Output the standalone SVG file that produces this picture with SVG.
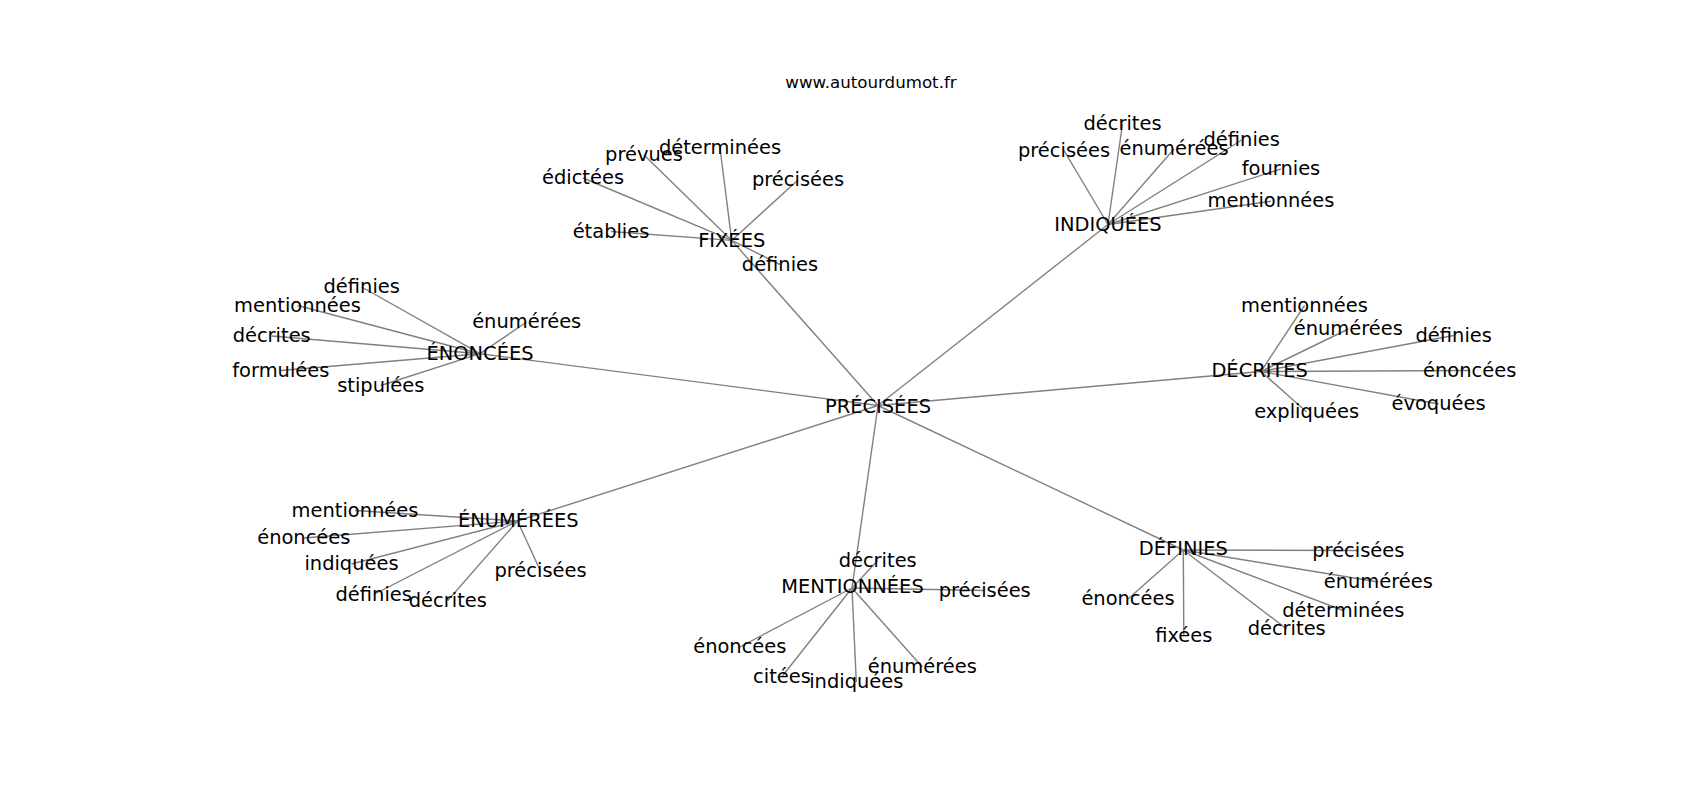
<svg xmlns="http://www.w3.org/2000/svg" width="1700" height="800" viewBox="0 0 1700 800">
<style>
text{font-family:"DejaVu Sans","Liberation Sans",sans-serif;font-size:19.44px;fill:#000;text-anchor:middle}
.title{font-size:16.67px}
#connectors line{stroke:#808080;stroke-width:1.4}
</style>
<rect width="1700" height="800" fill="#fff"/>
<text class="title" x="871" y="87.7">www.autourdumot.fr</text>
<g id="connectors">
<line x1="878" y1="405.5" x2="731.7" y2="240.4"/>
<line x1="878" y1="405.5" x2="1108" y2="224.5"/>
<line x1="878" y1="405.5" x2="480" y2="353.7"/>
<line x1="878" y1="405.5" x2="1261" y2="371.5"/>
<line x1="878" y1="405.5" x2="517.5" y2="521"/>
<line x1="878" y1="405.5" x2="852" y2="588"/>
<line x1="878" y1="405.5" x2="1183.3" y2="550"/>
<line x1="731.7" y1="240.4" x2="644" y2="155"/>
<line x1="731.7" y1="240.4" x2="720" y2="148"/>
<line x1="731.7" y1="240.4" x2="583" y2="178"/>
<line x1="731.7" y1="240.4" x2="798" y2="180"/>
<line x1="731.7" y1="240.4" x2="611" y2="231.5"/>
<line x1="731.7" y1="240.4" x2="780" y2="264.5"/>
<line x1="1108" y1="224.5" x2="1122.5" y2="124"/>
<line x1="1108" y1="224.5" x2="1064" y2="150.5"/>
<line x1="1108" y1="224.5" x2="1174" y2="149"/>
<line x1="1108" y1="224.5" x2="1241.7" y2="140"/>
<line x1="1108" y1="224.5" x2="1281" y2="169"/>
<line x1="1108" y1="224.5" x2="1271" y2="201.3"/>
<line x1="480" y1="353.7" x2="361.7" y2="287"/>
<line x1="480" y1="353.7" x2="297.5" y2="305.5"/>
<line x1="480" y1="353.7" x2="526.7" y2="322"/>
<line x1="480" y1="353.7" x2="271.7" y2="336"/>
<line x1="480" y1="353.7" x2="280.8" y2="370.5"/>
<line x1="480" y1="353.7" x2="380.8" y2="385.5"/>
<line x1="1261" y1="371.5" x2="1304.5" y2="305.5"/>
<line x1="1261" y1="371.5" x2="1348.3" y2="329"/>
<line x1="1261" y1="371.5" x2="1453.7" y2="335.5"/>
<line x1="1261" y1="371.5" x2="1469.7" y2="370.5"/>
<line x1="1261" y1="371.5" x2="1438.5" y2="404"/>
<line x1="1261" y1="371.5" x2="1306.7" y2="412"/>
<line x1="517.5" y1="521" x2="355" y2="510.5"/>
<line x1="517.5" y1="521" x2="303.8" y2="538"/>
<line x1="517.5" y1="521" x2="351.5" y2="564"/>
<line x1="517.5" y1="521" x2="540.5" y2="571"/>
<line x1="517.5" y1="521" x2="373.7" y2="594.5"/>
<line x1="517.5" y1="521" x2="447.8" y2="600.5"/>
<line x1="852" y1="588" x2="877.7" y2="560.5"/>
<line x1="852" y1="588" x2="984.7" y2="590.5"/>
<line x1="852" y1="588" x2="739.8" y2="647"/>
<line x1="852" y1="588" x2="782" y2="676.5"/>
<line x1="852" y1="588" x2="856.3" y2="682"/>
<line x1="852" y1="588" x2="922.3" y2="667"/>
<line x1="1183.3" y1="550" x2="1358.3" y2="550.5"/>
<line x1="1183.3" y1="550" x2="1378.3" y2="582"/>
<line x1="1183.3" y1="550" x2="1128" y2="599"/>
<line x1="1183.3" y1="550" x2="1343.3" y2="610.5"/>
<line x1="1183.3" y1="550" x2="1286.7" y2="629"/>
<line x1="1183.3" y1="550" x2="1183.8" y2="635.5"/>
</g>
<g id="n-precisees-center"><text x="878" y="412.5">PRÉCISÉES</text></g>
<g id="n-fixees"><text x="731.7" y="246.7">FIXÉES</text></g>
<g id="n-fixees-prevues"><text x="644" y="161">prévues</text></g>
<g id="n-fixees-determinees"><text x="720" y="154.3">déterminées</text></g>
<g id="n-fixees-edictees"><text x="583" y="184">édictées</text></g>
<g id="n-fixees-precisees"><text x="798" y="186">précisées</text></g>
<g id="n-fixees-etablies"><text x="611" y="237.7">établies</text></g>
<g id="n-fixees-definies"><text x="780" y="270.7">définies</text></g>
<g id="n-indiquees"><text x="1108" y="230.7">INDIQUÉES</text></g>
<g id="n-indiquees-decrites"><text x="1122.5" y="130">décrites</text></g>
<g id="n-indiquees-precisees"><text x="1064" y="156.7">précisées</text></g>
<g id="n-indiquees-enumerees"><text x="1174" y="155">énumérées</text></g>
<g id="n-indiquees-definies"><text x="1241.7" y="146">définies</text></g>
<g id="n-indiquees-fournies"><text x="1281" y="175">fournies</text></g>
<g id="n-indiquees-mentionnees"><text x="1271" y="207.3">mentionnées</text></g>
<g id="n-enoncees"><text x="480" y="360">ÉNONCÉES</text></g>
<g id="n-enoncees-definies"><text x="361.7" y="293.3">définies</text></g>
<g id="n-enoncees-mentionnees"><text x="297.5" y="311.7">mentionnées</text></g>
<g id="n-enoncees-enumerees"><text x="526.7" y="328.3">énumérées</text></g>
<g id="n-enoncees-decrites"><text x="271.7" y="342.3">décrites</text></g>
<g id="n-enoncees-formulees"><text x="280.8" y="376.7">formulées</text></g>
<g id="n-enoncees-stipulees"><text x="380.8" y="391.7">stipulées</text></g>
<g id="n-decrites"><text x="1259.7" y="377.3">DÉCRITES</text></g>
<g id="n-decrites-mentionnees"><text x="1304.5" y="311.7">mentionnées</text></g>
<g id="n-decrites-enumerees"><text x="1348.3" y="335">énumérées</text></g>
<g id="n-decrites-definies"><text x="1453.7" y="341.7">définies</text></g>
<g id="n-decrites-enoncees"><text x="1469.7" y="376.7">énoncées</text></g>
<g id="n-decrites-evoquees"><text x="1438.5" y="410">évoquées</text></g>
<g id="n-decrites-expliquees"><text x="1306.7" y="418.3">expliquées</text></g>
<g id="n-enumerees"><text x="518.3" y="526.7">ÉNUMÉRÉES</text></g>
<g id="n-enumerees-mentionnees"><text x="355" y="516.7">mentionnées</text></g>
<g id="n-enumerees-enoncees"><text x="303.8" y="544.3">énoncées</text></g>
<g id="n-enumerees-indiquees"><text x="351.5" y="570">indiquées</text></g>
<g id="n-enumerees-precisees"><text x="540.5" y="577.3">précisées</text></g>
<g id="n-enumerees-definies"><text x="373.7" y="600.7">définies</text></g>
<g id="n-enumerees-decrites"><text x="447.8" y="606.7">décrites</text></g>
<g id="n-mentionnees"><text x="852.5" y="592.7">MENTIONNÉES</text></g>
<g id="n-mentionnees-decrites"><text x="877.7" y="566.7">décrites</text></g>
<g id="n-mentionnees-precisees"><text x="984.7" y="596.7">précisées</text></g>
<g id="n-mentionnees-enoncees"><text x="739.8" y="653.3">énoncées</text></g>
<g id="n-mentionnees-citees"><text x="782" y="682.7">citées</text></g>
<g id="n-mentionnees-indiquees"><text x="856.3" y="688.3">indiquées</text></g>
<g id="n-mentionnees-enumerees"><text x="922.3" y="673.3">énumérées</text></g>
<g id="n-definies"><text x="1183.3" y="555">DÉFINIES</text></g>
<g id="n-definies-precisees"><text x="1358.3" y="556.7">précisées</text></g>
<g id="n-definies-enumerees"><text x="1378.3" y="588.3">énumérées</text></g>
<g id="n-definies-enoncees"><text x="1128" y="605">énoncées</text></g>
<g id="n-definies-determinees"><text x="1343.3" y="616.7">déterminées</text></g>
<g id="n-definies-decrites"><text x="1286.7" y="635">décrites</text></g>
<g id="n-definies-fixees"><text x="1183.8" y="641.7">fixées</text></g>
</svg>
